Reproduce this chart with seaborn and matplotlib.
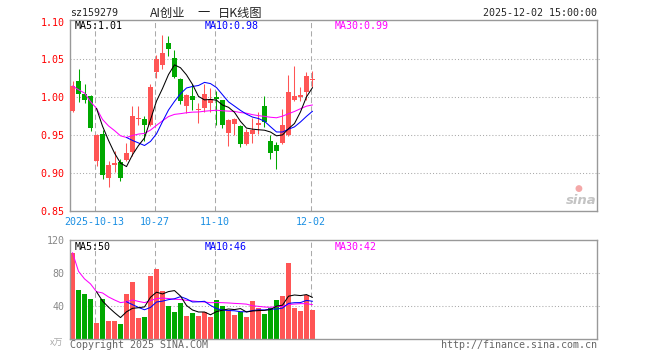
import numpy as np
import pandas as pd
import matplotlib
matplotlib.use("Agg")
import matplotlib.pyplot as plt
import seaborn as sns

# daily K-line data, 2025-09-29 .. 2025-12-02 (41 sessions)
opens = [0.982, 1.022, 1.004, 1.002, 0.916, 0.952, 0.894, 0.911, 0.914, 0.917,
         0.928, 0.971, 0.972, 0.963, 1.033, 1.042, 1.072, 1.052, 1.024, 0.989,
         1.002, 0.983, 0.986, 0.992, 1.000, 0.996, 0.953, 0.965, 0.962, 0.938,
         0.952, 0.964, 0.989, 0.942, 0.937, 0.940, 0.950, 0.996, 1.000, 1.007,
         1.023]
highs = [1.021, 1.037, 1.018, 1.003, 0.951, 0.957, 0.916, 0.929, 0.918, 0.940,
         0.988, 0.989, 0.976, 1.017, 1.056, 1.082, 1.081, 1.062, 1.025, 1.005,
         1.017, 0.992, 1.018, 1.012, 1.008, 0.997, 0.971, 0.973, 0.964, 0.958,
         0.973, 0.980, 1.002, 0.950, 0.941, 0.985, 1.029, 1.041, 1.014, 1.034,
         1.035]
lows = [0.980, 0.994, 0.993, 0.955, 0.910, 0.892, 0.882, 0.902, 0.889, 0.916,
        0.923, 0.963, 0.942, 0.962, 1.025, 1.037, 1.054, 1.026, 0.991, 0.979,
        0.983, 0.966, 0.981, 0.980, 0.963, 0.960, 0.936, 0.950, 0.935, 0.937,
        0.940, 0.952, 0.961, 0.918, 0.905, 0.938, 0.949, 0.995, 0.995, 0.996,
        1.014]
closes = [1.015, 1.005, 0.997, 0.960, 0.950, 0.898, 0.911, 0.913, 0.894, 0.927,
          0.976, 0.972, 0.963, 1.014, 1.050, 1.059, 1.064, 1.027, 0.995, 1.003,
          0.996, 0.985, 1.004, 0.998, 0.998, 0.964, 0.970, 0.971, 0.938, 0.954,
          0.957, 0.966, 0.968, 0.926, 0.929, 0.963, 1.007, 1.002, 1.003, 1.028,
          1.024]
volumes = [104.7, 59.4, 54.6, 48.5, 19.4, 48.5, 21.8, 21.8, 18.2, 54.6,
           69.5, 25.5, 26.7, 76.8, 85.3, 58.6, 40.0, 32.7, 43.7, 27.9,
           31.5, 27.9, 32.7, 26.7, 47.3, 40.0, 35.2, 29.1, 32.7, 26.7,
           46.1, 37.6, 30.3, 37.6, 47.3, 52.1, 92.1, 37.6, 34.0, 53.4,
           35.2]
date_ticks = [4, 14, 24, 40]
date_labels = ["2025-10-13", "10-27", "11-10", "12-02"]
price_ticks = [0.85, 0.90, 0.95, 1.00, 1.05, 1.10]
vol_ticks = [40, 80, 120]

RED = "#ff5555"
GREEN = "#00a800"
GRID = "#aaaaaa"
FRAME = "#999999"
MONO = "DejaVu Sans Mono"
FS = 7.2
LW = 0.75

sns.set_style("white")
plt.rcParams["font.family"] = [MONO, "Noto Sans CJK SC"]

df = pd.DataFrame({"i": np.arange(len(closes)), "open": opens, "high": highs,
                   "low": lows, "close": closes, "vol": volumes})
df["dir"] = np.where(df["close"] >= df["open"], "up", "down")
df["ma5"] = df["close"].rolling(5).mean()
df["ma10"] = df["close"].rolling(10).mean()
df["ma30"] = df["close"].rolling(30, min_periods=1).mean()
df["vma5"] = df["vol"].rolling(5).mean()
df["vma10"] = df["vol"].rolling(10).mean()
df["vma30"] = df["vol"].rolling(30, min_periods=1).mean()
cols = np.where(df["dir"] == "up", RED, GREEN)

W, H = 660, 360
fig = plt.figure(figsize=(6.6, 3.6), dpi=100)
ax = fig.add_axes([70 / W, 1 - 211 / H, 527 / W, 191 / H])
axv = fig.add_axes([70 / W, 1 - 339 / H, 527 / W, 99 / H])

xlim = (-0.417, 87.42)
vlines_x = [t - 0.3 for t in date_ticks]

# ---- price panel ----
for y in price_ticks[1:-1]:
    ax.axhline(y, xmin=0, xmax=1.006, color=GRID, lw=0.75, dashes=(1, 2), clip_on=False, zorder=0)
for x in vlines_x:
    ax.axvline(x, color=GRID, lw=0.75, dashes=(5, 3), zorder=0)

ax.vlines(df["i"], df["low"], df["high"], colors=cols, lw=LW, zorder=2)
body = np.maximum((df["close"] - df["open"]).abs(), 0.0013)
ax.bar(df["i"], body, bottom=np.minimum(df["open"], df["close"]), width=0.83,
       color=cols, linewidth=0, zorder=3)

sns.lineplot(data=df, x="i", y="ma30", color="#ff00ff", lw=LW, ax=ax, zorder=4)
sns.lineplot(data=df, x="i", y="ma10", color="#0000ff", lw=LW, ax=ax, zorder=5)
sns.lineplot(data=df, x="i", y="ma5", color="black", lw=LW, ax=ax, zorder=6)

ax.set_xlim(*xlim)
ax.set_ylim(0.85, 1.102)
ax.set_yticks(price_ticks)
ax.set_yticklabels([f"{v:.2f}" for v in price_ticks], color="#ff0000", fontsize=FS)
ax.set_xticks(vlines_x)
ax.set_xticklabels(date_labels, color="#1a8fe3", fontsize=FS)
ax.tick_params(length=0, pad=4)
ax.set_xlabel("")
ax.set_ylabel("")
for s in ax.spines.values():
    s.set_color(FRAME)
    s.set_linewidth(1)

# ---- volume panel ----
for y in vol_ticks[:-1]:
    axv.axhline(y, xmin=0, xmax=1.006, color=GRID, lw=0.75, dashes=(1, 2), clip_on=False, zorder=0)
for x in vlines_x:
    axv.axvline(x, color=GRID, lw=0.75, dashes=(5, 3), zorder=0)

sns.barplot(data=df, x="i", y="vol", hue="dir", palette={"up": RED, "down": GREEN},
            native_scale=True, dodge=False, width=0.83, saturation=1, errorbar=None,
            linewidth=0, legend=False, ax=axv, zorder=2)
sns.lineplot(data=df, x="i", y="vma30", color="#ff00ff", lw=LW, ax=axv, zorder=4)
sns.lineplot(data=df, x="i", y="vma10", color="#0000ff", lw=LW, ax=axv, zorder=5)
sns.lineplot(data=df, x="i", y="vma5", color="black", lw=LW, ax=axv, zorder=6)

axv.set_xlim(*xlim)
axv.set_ylim(0, 120)
axv.set_yticks(vol_ticks)
axv.set_yticklabels([str(v) for v in vol_ticks], color="#888888", fontsize=FS)
axv.set_xticks([])
axv.tick_params(length=0, pad=4)
axv.set_xlabel("")
axv.set_ylabel("")
for s in axv.spines.values():
    s.set_color(FRAME)
    s.set_linewidth(1)

# ---- texts ----
def ft(x, y, s, **kw):
    kw.setdefault("fontsize", FS)
    kw.setdefault("family", MONO)
    fig.text(x / W, 1 - y / H, s, **kw)

last = df.iloc[-1]
ft(70, 13, "sz159279", va="center")
ft(150, 13, "AI创业", va="center", family=["Noto Sans CJK SC"], fontsize=8.8, color="#222222")
ft(203.5, 13, "一", va="center", ha="center", family=["Noto Sans CJK SC"], fontsize=8.8, color="#222222")
ft(218, 13, "日K线图", va="center", family=["Noto Sans CJK SC"], fontsize=8.8, color="#222222")
ft(597, 13, "2025-12-02 15:00:00", va="center", ha="right")

ft(75, 26, f"MA5:{last['ma5']:.2f}", va="center", color="black")
ft(205, 26, f"MA10:{last['ma10']:.2f}", va="center", color="#0000ff")
ft(335, 26, f"MA30:{last['ma30']:.2f}", va="center", color="#ff00ff")
ft(75, 246.5, f"MA5:{last['vma5']:.0f}", va="center", color="black")
ft(205, 246.5, f"MA10:{last['vma10']:.0f}", va="center", color="#0000ff")
ft(335, 246.5, f"MA30:{last['vma30']:.0f}", va="center", color="#ff00ff")

ft(63, 343, "x万", va="center", ha="right", color="#aaaaaa", family=["Noto Sans CJK SC"], fontsize=6.5)
ft(70, 345, "Copyright 2025 SINA.COM", va="center", color="#666666")
ft(597, 345, "http://finance.sina.com.cn", va="center", ha="right", color="#666666")

# sina watermark
ft(581, 200, "sina", va="center", ha="center", color="#c4c4c4", fontsize=9.5,
   family="DejaVu Sans", style="italic", weight="bold")
fig.text(578 / W, 1 - 189 / H, "●", color="#f4a8a8", fontsize=6.5, ha="center", va="center",
         family="DejaVu Sans")

fig.savefig("out.png", dpi=100)
